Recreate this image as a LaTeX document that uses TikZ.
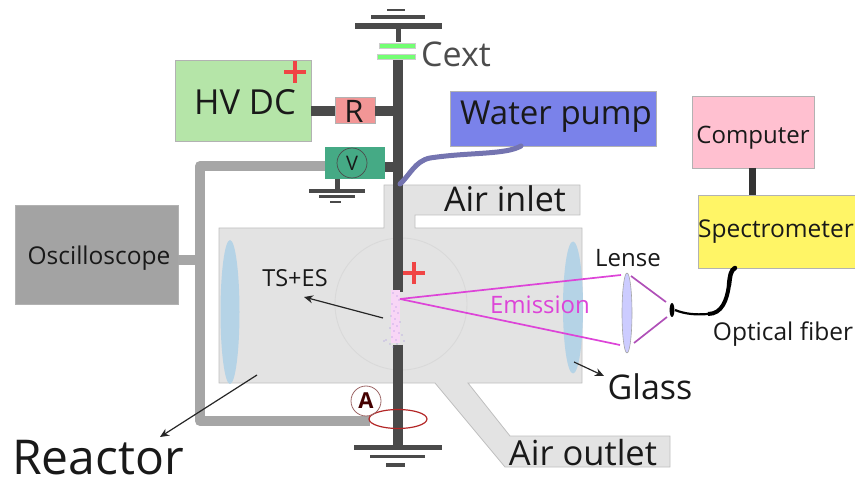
\documentclass[tikz,border=0pt]{standalone}
\usepackage{fontspec}
\setmainfont{Open Sans}
\usetikzlibrary{arrows.meta}
\definecolor{rodc}{HTML}{4A4A4A}
\definecolor{wirec}{HTML}{A6A6A6}
\definecolor{reac}{HTML}{E3E3E3}
\definecolor{glassc}{HTML}{B5D3E6}
\definecolor{magc}{HTML}{DD44D8}
\definecolor{lensln}{HTML}{B050B8}
\definecolor{hvc}{HTML}{B5E5A8}
\definecolor{rc}{HTML}{F29696}
\definecolor{vc}{HTML}{45AA85}
\definecolor{pumpc}{HTML}{7A82EA}
\definecolor{compc}{HTML}{FFC0D0}
\definecolor{specc}{HTML}{FFF566}
\definecolor{oscc}{HTML}{A3A3A3}
\definecolor{plusc}{HTML}{F04545}
\definecolor{hosec}{HTML}{7474B0}
\definecolor{dotc}{HTML}{9A80E0}
\tikzset{
  every node/.style={inner sep=0pt,outer sep=0pt,text=black!90},
  boxn/.style={draw=black!30,line width=.8pt,anchor=north west},
  rod/.style={draw=rodc,line width=10pt},
  wire/.style={draw=wirec,line width=10pt,line join=round},
  gnd/.style={draw=rodc,line width=#1},
  lbl/.style={font=\fontsize{#1}{#1}\selectfont},
  arr/.style={draw=black!85,line width=1.2pt,-{Stealth[length=9pt,width=8pt]}},
  ray/.style={draw=magc,line width=1.7pt},
  ray2/.style={draw=lensln,line width=1.7pt},
  plus/.style={draw=plusc,line width=3.6pt},
}
\begin{document}
\begin{tikzpicture}[x=1pt,y=-1pt]
\useasboundingbox (0,0) rectangle (855,481);
% reactor body with inlet and outlet
\fill[reac,draw=black!25,line width=.8pt] (219,228) -- (384,228) -- (384,185) -- (580,185) -- (580,215) -- (415,215) -- (415,228) -- (582,228) -- (582,383) -- (468,383) -- (510,436) -- (670,436) -- (670,467) -- (505,467) -- (435,383) -- (219,383) -- cycle;
\draw[black!15,line width=.9pt] (401,304) circle (66);
\fill[glassc] (230,312) ellipse (9.5 and 72);
\fill[glassc] (573,307.5) ellipse (10 and 66);
% boxes
\node[boxn,fill=hvc,minimum width=136pt,minimum height=81pt] (hv) at (175,60) {};
\node[lbl=34.5] at (245,102) {HV DC};
\node[boxn,fill=rc,minimum width=40pt,minimum height=26pt] (r) at (335,97) {};
\node[lbl=31] at (354,111) {R};
\node[boxn,fill=vc,draw=none,minimum width=60pt,minimum height=32pt] (v) at (325,147) {};
\node[draw=black!70,line width=.7pt,circle,minimum size=30pt] (vcirc) at (352,163) {};
\node[lbl=20] at (352,163) {V};
\node[boxn,fill=pumpc,minimum width=206pt,minimum height=55pt] (pump) at (450,91) {};
\node[lbl=33] at (556,117) {Water pump};
\node[boxn,fill=compc,minimum width=122pt,minimum height=72pt] (comp) at (692,96) {};
\node[lbl=24] at (753,138) {Computer};
\node[boxn,fill=specc,minimum width=157pt,minimum height=73pt] (spec) at (698,195) {};
\node[lbl=24.5] at (776,232) {Spectrometer};
\node[boxn,fill=oscc,minimum width=163pt,minimum height=99pt] (osc) at (15,205) {};
\node[lbl=24.5] at (99,258) {Oscilloscope};
% named points
\coordinate (rodtop) at (398,56);
\coordinate (rodmid) at (398,292);
\coordinate (rodlow) at (398,345);
\coordinate (rodend) at (398,447);
% wires
\draw[wire] (osc.east |- 0,260) -- (198,260);
\draw[wire] (v.west |- 0,166) -- (200,166) -- (200,421) -- (370,421);
\draw[rod] (hv.east |- 0,111) -- (r.west |- 0,111);
\draw[rod] (r.east |- 0,111) -- (398,111);
\draw[rod] (v.east |- 0,167) -- (398,167);
\draw[rod] (rodtop) -- (rodmid);
\draw[rod] (rodlow) -- (rodend);
\draw[draw=black!80,line width=7pt] (comp.south -| 752,0) -- (spec.north -| 752,0);
% capacitor and grounds
\draw[draw=rodc,line width=5pt] (398,26) -- (398,42);
\draw[gnd=6pt] (355,26) -- (442,26);
\draw[gnd=3.5pt] (371,17) -- (425,17);
\draw[gnd=2.5pt] (387,10) -- (405,10);
\fill[green!55!white,draw=black!20,line width=.3pt] (379,43) rectangle (415,48);
\fill[green!55!white,draw=black!20,line width=.3pt] (377,54) rectangle (415,59);
\draw[draw=rodc,line width=5pt] (337,179) -- (337,191);
\draw[gnd=3.5pt] (309,191) -- (365,191);
\draw[gnd=3pt] (319,197) -- (355,197);
\draw[gnd=2.5pt] (330,202) -- (341,202);
\draw[gnd=5.5pt] (354,447.5) -- (442,447.5);
\draw[gnd=3.5pt] (370,456.5) -- (425,456.5);
\draw[gnd=4pt] (386,465) -- (405,465);
% hose
\draw[draw=hosec,line width=5pt,line cap=round] (521,146) .. controls (505,155) and (470,152) .. (430,158) .. controls (415,161) and (410,175) .. (400,184);
% plasma
\fill[magc!22!white] (391,290) rectangle (400,343);
\foreach \x/\y in {393/293,397/296,399/300,392/304,396/307,394/311,398/313,391/316,395/319,393/324,397/326,400/322,390/328,394/331,399/333,386/340,392/337,396/340,402/335,404/341,384/341,390/344,397/344,393/347}
  \fill[dotc] (\x,\y) circle (.7);
% rays and lens
\draw[ray] (400,299) -- (621,275);
\draw[ray] (400,299) -- (620,345);
\fill[blue!20!white,draw=black!35,line width=.6pt] (627,313) ellipse (5 and 40);
\draw[ray2] (631,276) -- (666,302);
\draw[ray2] (634,343) -- (667,317);
% fibre
\fill[black] (672,310) ellipse (2.4 and 7);
\draw[black,line width=2.2pt] (675,310) .. controls (685,314) and (695,315) .. (708,314);
\draw[black,line width=4pt] (708,314) .. controls (722,314) and (727,300) .. (729,285);
\draw[black,line width=4.5pt,line cap=round] (729,285) .. controls (730,275) and (731,270) .. (735,268);
% ammeter
\draw[draw=red!65!black!85,line width=1.2pt] (398,419) ellipse (29 and 9.5);
\node[draw=red!35!black!60,line width=.8pt,circle,minimum size=30pt] (ac) at (366,401) {};
\node[font=\bfseries\fontsize{22}{22}\selectfont,text=black!70!red!90!black] at (366,401) {A};
% pluses
\draw[plus] (284,72) -- (306,72);
\draw[plus] (295,61) -- (295,83);
\draw[plus] (403,273) -- (425,273);
\draw[plus] (414,262) -- (414,284);
% labels
\node[lbl=34,text=black!70] at (456,54) {Cext};
\node[lbl=34] at (505,199) {Air inlet};
\node[lbl=34.5] at (583,453) {Air outlet};
\node[lbl=23.5] (ts) at (295,278) {TS+ES};
\node[lbl=24,text=magc] (em) at (540,305) {Emission};
\node[lbl=24] (lense) at (628,258) {Lense};
\node[lbl=24.5] (fib) at (783,334) {Optical fiber};
\node[lbl=34] (glass) at (650,387) {Glass};
\node[lbl=48] (reactor) at (98,458) {Reactor};
% pointers
\coordinate (tsa) at (383,318);
\coordinate (tsb) at (304,297);
\coordinate (rea) at (257,375);
\coordinate (reb) at (160,437);
\coordinate (gla) at (574,362);
\coordinate (glb) at (604,376);
\draw[arr] (tsa) -- (tsb);
\draw[arr] (rea) -- (reb);
\draw[arr] (gla) -- (glb);
\end{tikzpicture}
\end{document}
